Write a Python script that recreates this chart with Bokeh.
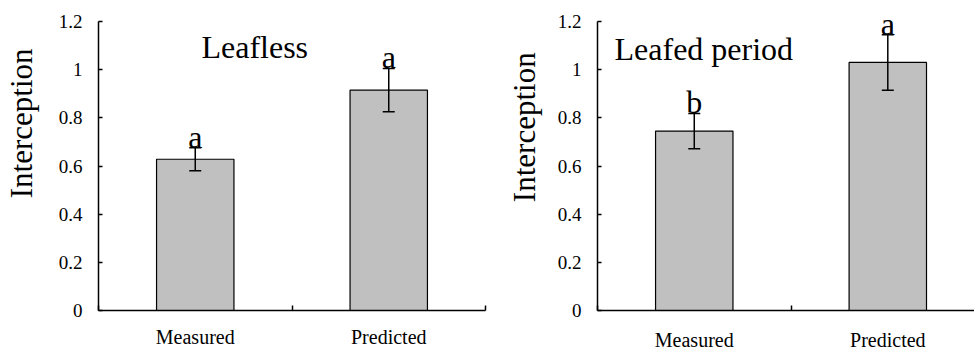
from bokeh.plotting import figure
from bokeh.models import Range1d, FixedTicker, Whisker, TeeHead, ColumnDataSource, Label
from bokeh.layouts import row
from bokeh.embed import file_html
from bokeh.resources import INLINE
from bokeh.core.properties import value

# ---- data ----
categories = ["Measured", "Predicted"]
leafless_mean = [0.628, 0.915]
leafless_err = [0.048, 0.09]
leafless_letters = ["a", "a"]
leafed_mean = [0.745, 1.03]
leafed_err = [0.073, 0.115]
leafed_letters = ["b", "a"]
y_ticks = [0, 0.2, 0.4, 0.6, 0.8, 1.0, 1.2]
y_tick_labels = ["0", "0.2", "0.4", "0.6", "0.8", "1", "1.2"]
panel_titles = ["Leafless", "Leafed period"]
y_title = "Interception"

FONT = "Liberation Serif"
NBSP = "\u00a0"


def make_panel(title, means, errs, letters, width, height, b_left, b_top, b_right,
               b_bottom, x_end, title_pos, ylabel_standoff, ylabel_pad, xlabel_standoff):
    p = figure(width=width, height=height, output_backend="svg", toolbar_location=None,
               x_range=Range1d(0, x_end), y_range=Range1d(0, 1.2),
               min_border_left=b_left, min_border_top=b_top, min_border_right=b_right,
               min_border_bottom=b_bottom)
    p.outline_line_color = None
    p.grid.visible = False
    p.background_fill_color = "white"
    p.border_fill_color = "white"

    xs = [i + 0.5 for i in range(len(categories))]
    upper = [m + e for m, e in zip(means, errs)]
    lower = [m - e for m, e in zip(means, errs)]
    src = ColumnDataSource(dict(x=xs, top=means, upper=upper, lower=lower, letter=letters))

    p.vbar(x="x", top="top", bottom=0, width=0.4, source=src,
           fill_color="#c0c0c0", line_color="black", line_width=1.2)
    w = Whisker(base="x", upper="upper", lower="lower", source=src, level="overlay",
                line_color="black", line_width=1.5,
                upper_head=TeeHead(size=12, line_color="black", line_width=1.5),
                lower_head=TeeHead(size=12, line_color="black", line_width=1.5))
    p.add_layout(w)
    p.text(x="x", y="upper", text="letter", source=src, text_font=value(FONT),
           text_font_size="32px", text_align="center", text_baseline="alphabetic",
           y_offset=-11, text_color="black", level="overlay")

    p.add_layout(Label(x=title_pos[0], y=title_pos[1], text=title, text_font=FONT,
                       text_font_size="32px", text_align="left",
                       text_baseline="alphabetic", text_color="black"))

    # y axis
    ya = p.yaxis[0]
    ya.ticker = FixedTicker(ticks=y_ticks)
    ya.major_label_overrides = {t: l for t, l in zip(y_ticks, y_tick_labels)}
    ya.major_tick_in = 4
    ya.major_tick_out = 0
    ya.minor_tick_in = 0
    ya.minor_tick_out = 0
    ya.major_label_standoff = 16
    ya.major_label_text_font = FONT
    ya.major_label_text_font_size = "19px"
    ya.major_label_text_color = "black"
    ya.axis_line_color = "black"
    ya.axis_line_width = 1.5
    ya.major_tick_line_color = "black"
    ya.major_tick_line_width = 1.5
    # leading no-break spaces shift the title towards the top, as in the original
    ya.axis_label = NBSP * ylabel_pad + y_title
    ya.axis_label_text_font = FONT
    ya.axis_label_text_font_size = "31px"
    ya.axis_label_text_font_style = "normal"
    ya.axis_label_text_color = "black"
    ya.axis_label_standoff = ylabel_standoff

    # x axis
    xa = p.xaxis[0]
    xa.ticker = FixedTicker(ticks=xs, minor_ticks=list(range(len(categories) + 1)))
    xa.major_label_overrides = {x: c for x, c in zip(xs, categories)}
    xa.major_tick_in = 0
    xa.major_tick_out = 0
    xa.minor_tick_in = 5
    xa.minor_tick_out = 0
    xa.minor_tick_line_color = "black"
    xa.minor_tick_line_width = 1.5
    xa.major_label_standoff = xlabel_standoff
    xa.major_label_text_font = FONT
    xa.major_label_text_font_size = "20px"
    xa.major_label_text_color = "black"
    xa.axis_line_color = "black"
    xa.axis_line_width = 1.5
    return p


p1 = make_panel(panel_titles[0], leafless_mean, leafless_err, leafless_letters,
                width=490, height=353, b_left=98, b_top=21, b_right=5, b_bottom=39,
                x_end=2.0, title_pos=(0.532, 1.096), ylabel_standoff=17, ylabel_pad=11,
                xlabel_standoff=15)
p2 = make_panel(panel_titles[1], leafed_mean, leafed_err, leafed_letters,
                width=484, height=353, b_left=107, b_top=16, b_right=0, b_bottom=42,
                x_end=1.948, title_pos=(0.088, 1.086), ylabel_standoff=13, ylabel_pad=10,
                xlabel_standoff=18)

layout = row(p1, p2)
open("out.html", "w").write(file_html(layout, INLINE))
